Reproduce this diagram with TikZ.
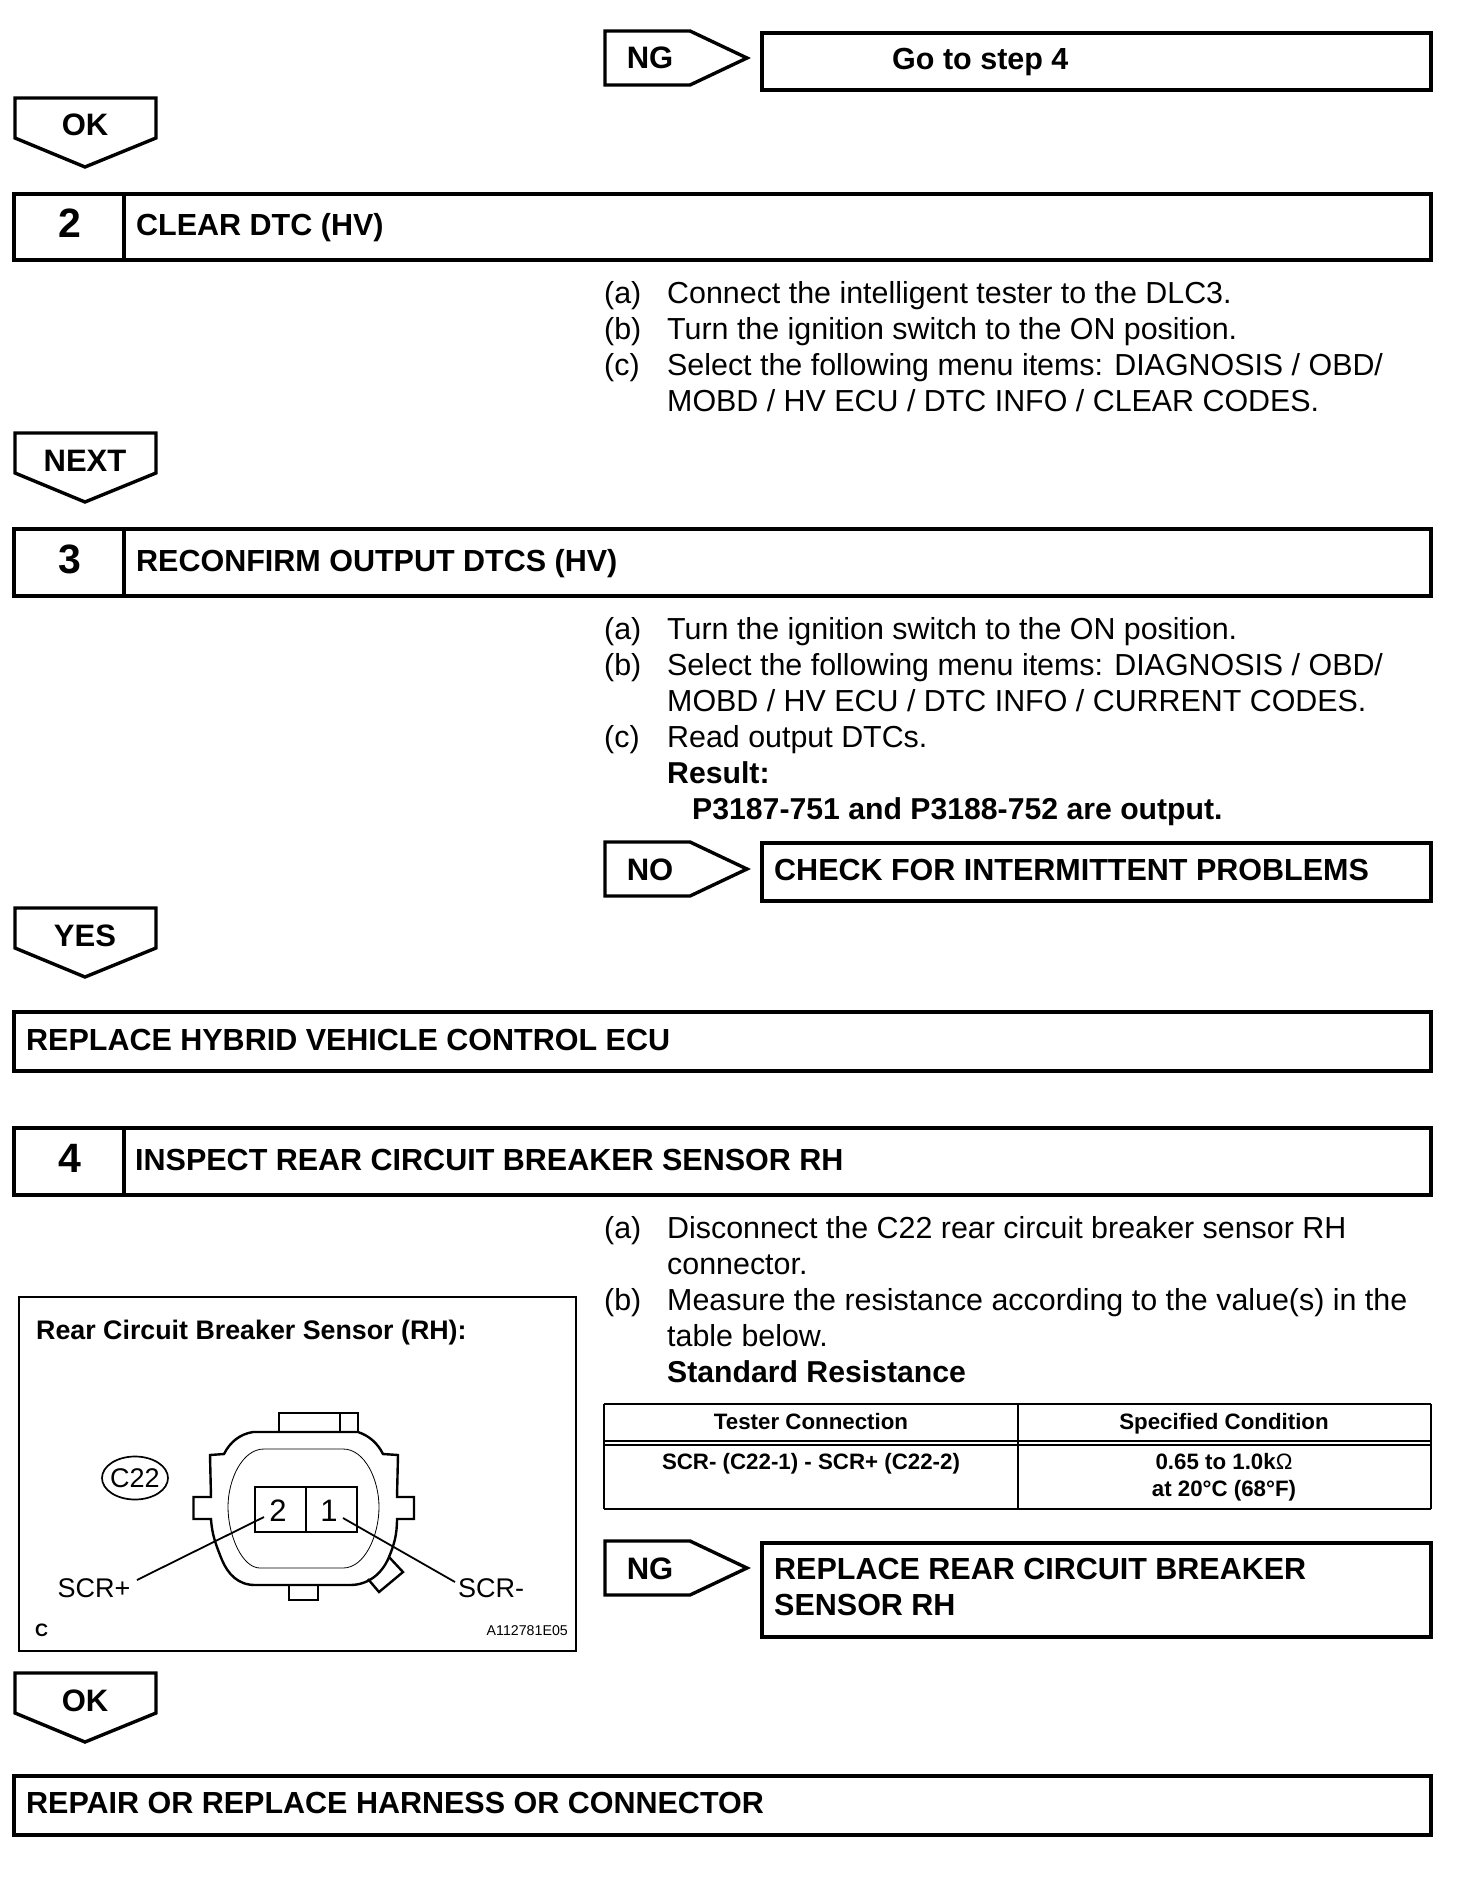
\documentclass[tikz,border=0pt]{standalone}
\usepackage{fontspec}
\setmainfont{Liberation Sans}
\newcommand{\fs}[1]{\fontsize{#1}{#1}\selectfont}
\tikzset{
  x=1pt,y=-1pt,
  heavy/.style={draw=black,line width=3.6pt,line join=miter},
  tag/.style={draw=black,line width=3.4pt,line join=miter,fill=white},
  body/.style={anchor=base west,inner sep=0pt,font=\fs{30.4}},
  bodybold/.style={anchor=base west,inner sep=0pt,font=\bfseries\fs{30.2}},
  head/.style={anchor=base west,inner sep=0pt,font=\bfseries\fs{30.5}},
  tagtext/.style={anchor=base,inner sep=0pt,font=\bfseries\fs{31}},
  stepno/.style={anchor=base,inner sep=0pt,font=\bfseries\fs{41}},
  tabhead/.style={anchor=base,inner sep=0pt,font=\bfseries\fs{22.3}},
  thin line/.style={draw=black,line width=1.2pt},
  conn/.style={draw=black,line width=2.4pt,line join=miter},
  leader/.style={draw=black,line width=1.8pt},
  conntext/.style={anchor=base,inner sep=0pt,font=\fs{27}},
}
% downward tag: name, top y, text
\newcommand{\downtag}[3]{%
  \draw[tag] (15,#2) -- (156,#2) -- (156,#2+40) -- (85,#2+69) -- (15,#2+40) -- cycle;
  \node[tagtext] (#1) at (85,#2+38) {#3};
}
% right tag: name, top y, text
\newcommand{\righttag}[3]{%
  \draw[tag] (605,#2) -- (690,#2) -- (747,#2+27) -- (690,#2+54) -- (605,#2+54) -- cycle;
  \node[tagtext] (#1) at (650,#2+38) {#3};
}
% step bar: number, top y, bottom y
\newcommand{\stepbar}[3]{%
  \draw[heavy] (14,#2) rectangle (1431,#3);
  \draw[heavy] (124,#2) -- (124,#3);
  \node[stepno] (no#1) at (70,#2+44) {#1};
}
\begin{document}
\begin{tikzpicture}
\useasboundingbox (0,0) rectangle (1472,1886);
\fill[white] (0,0) rectangle (1472,1886);

% top row
\righttag{ngone}{31}{NG}
\draw[heavy] (762,33) rectangle (1431,90);
\node[head] (gostep) at (892,70) {Go to step 4};
\downtag{okone}{98}{OK}

% step 2
\stepbar{2}{194}{260}
\node[head] (clear) at (136,236) {CLEAR DTC (HV)};
\node[body] (a2a) at (604,303) {(a)};
\node[body] (t2a) at (667,303) {Connect the intelligent tester to the DLC3.};
\node[body] (a2b) at (604,339) {(b)};
\node[body] (t2b) at (667,339) {Turn the ignition switch to the ON position.};
\node[body] (a2c) at (604,375) {(c)};
\node[body] (t2c) at (667,375) {Select the following menu items: DIAGNOSIS / OBD/};
\node[body] (t2d) at (667,411) {MOBD / HV ECU / DTC INFO / CLEAR CODES.};
\downtag{next}{433}{NEXT}

% step 3
\stepbar{3}{529}{596}
\node[head] (reconfirm) at (136,571) {RECONFIRM OUTPUT DTCS (HV)};
\node[body] (a3a) at (604,639) {(a)};
\node[body] (t3a) at (667,639) {Turn the ignition switch to the ON position.};
\node[body] (a3b) at (604,675) {(b)};
\node[body] (t3b) at (667,675) {Select the following menu items: DIAGNOSIS / OBD/};
\node[body] (t3c) at (667,711) {MOBD / HV ECU / DTC INFO / CURRENT CODES.};
\node[body] (a3c) at (604,747) {(c)};
\node[body] (t3d) at (667,747) {Read output DTCs.};
\node[bodybold] (t3e) at (667,783) {Result:};
\node[bodybold] (t3f) at (692,819) {P3187-751 and P3188-752 are output.};
\righttag{noone}{842}{NO}
\draw[heavy] (762,843) rectangle (1431,901);
\node[head] (intermittent) at (774,880) {CHECK FOR INTERMITTENT PROBLEMS};
\downtag{yes}{908}{YES}

% replace ECU
\draw[heavy] (14,1012) rectangle (1431,1071);
\node[head] (replaceecu) at (26,1050) {REPLACE HYBRID VEHICLE CONTROL ECU};

% step 4
\stepbar{4}{1128}{1195}
\node[head] (inspect) at (135,1170) {INSPECT REAR CIRCUIT BREAKER SENSOR RH};
\node[body] (a4a) at (604,1238) {(a)};
\node[body] (t4a) at (667,1238) {Disconnect the C22 rear circuit breaker sensor RH};
\node[body] (t4b) at (667,1274) {connector.};
\node[body] (a4b) at (604,1310) {(b)};
\node[body] (t4c) at (667,1310) {Measure the resistance according to the value(s) in the};
\node[body] (t4d) at (667,1346) {table below.};
\node[bodybold] (t4e) at (667,1382) {Standard Resistance};

% table
\draw[thin line,line width=2pt] (604,1404) -- (1431,1404);
\draw[thin line,line width=2pt] (604,1441) -- (1431,1441);
\draw[thin line,line width=2pt] (604,1445) -- (1431,1445);
\draw[thin line,line width=2.6pt] (604,1509) -- (1431,1509);
\draw[thin line] (604,1404) -- (604,1509);
\draw[thin line] (1018,1404) -- (1018,1509);
\draw[thin line] (1431,1404) -- (1431,1509);
\node[tabhead] (th1) at (811,1429) {Tester Connection};
\node[tabhead] (th2) at (1224,1429) {Specified Condition};
\node[tabhead] (td1) at (811,1469) {SCR- (C22-1) - SCR+ (C22-2)};
\node[tabhead] (td2) at (1224,1469) {0.65 to 1.0k{\mdseries Ω}};
\node[tabhead] (td3) at (1224,1496) {at 20°C (68°F)};

% NG 2
\righttag{ngtwo}{1541}{NG}
\draw[heavy] (762,1543) rectangle (1431,1637);
\node[head] (rep1) at (774,1579) {REPLACE REAR CIRCUIT BREAKER};
\node[head] (rep2) at (774,1615) {SENSOR RH};

% illustration frame
\draw[draw=black,line width=2.6pt] (19,1297) rectangle (576,1651);
\node[anchor=base west,inner sep=0pt,font=\bfseries\fs{26.8}] (frametitle) at (36,1339) {Rear Circuit Breaker Sensor (RH):};
\node[anchor=base west,inner sep=0pt,font=\bfseries\fs{18}] (cmark) at (35,1636) {C};
\node[anchor=base east,inner sep=0pt,font=\fs{14.2}] (code) at (568,1635) {A112781E05};
\draw[draw=black,line width=1.7pt] (135,1478) ellipse [x radius=33,y radius=21.5];
\node[anchor=base,inner sep=0pt,font=\fs{27}] (c22) at (135,1487) {C22};

% connector body
\draw[conn] (279,1431) -- (279,1413) -- (358,1413) -- (358,1432);
\draw[draw=black,line width=1.2pt] (340,1413) -- (340,1431);
\draw[conn] (253,1432) -- (358,1432) .. controls (370,1436) and (378,1444) .. (383,1454) -- (398,1455) -- (397,1497) -- (414,1497) -- (414,1519) -- (397,1519)
  .. controls (397,1535) and (394,1545) .. (389,1557) .. controls (382,1574) and (368,1585) .. (350,1585) -- (255,1585)
  .. controls (238,1585) and (228,1574) .. (222,1560) .. controls (216,1545) and (212,1535) .. (211,1519) -- (193.5,1519) -- (193.5,1497) -- (211,1497) -- (210,1455) -- (224,1454) .. controls (230,1442) and (240,1434) .. (253,1432) -- cycle;
\draw[draw=black,line width=.8pt] (264,1449) -- (343,1449) .. controls (365,1449) and (379,1480) .. (379,1507) .. controls (379,1535) and (365,1568) .. (343,1568) -- (260,1568) .. controls (242,1568) and (228,1535) .. (228,1507) .. controls (228,1480) and (242,1449) .. (264,1449) -- cycle;
\draw[conn] (289,1585) -- (289,1600) -- (318,1600) -- (318,1585);
\draw[conn] (389,1557) -- (403,1572) -- (379,1592) -- (368,1579);
\draw[draw=black,line width=1.1pt] (255,1487) rectangle (357,1532);
\draw[draw=black,line width=1.1pt] (306,1487) -- (306,1532);
\node[anchor=base,inner sep=0pt,font=\fs{31}] (pin2) at (278,1521) {2};
\node[anchor=base,inner sep=0pt,font=\fs{31}] (pin1) at (329,1521) {1};
\node[conntext] (scrp) at (94,1597) {SCR+};
\node[conntext] (scrm) at (491,1597) {SCR-};
\coordinate (lp) at (264,1517);
\coordinate (lpe) at (137,1580);
\coordinate (lm) at (343,1518);
\coordinate (lme) at (455,1582);
\draw[leader] (lp) -- (lpe);
\draw[leader] (lm) -- (lme);

\downtag{oktwo}{1673}{OK}

% last
\draw[heavy] (14,1776) rectangle (1431,1835);
\node[head] (repair) at (26,1813) {REPAIR OR REPLACE HARNESS OR CONNECTOR};
\end{tikzpicture}
\end{document}
